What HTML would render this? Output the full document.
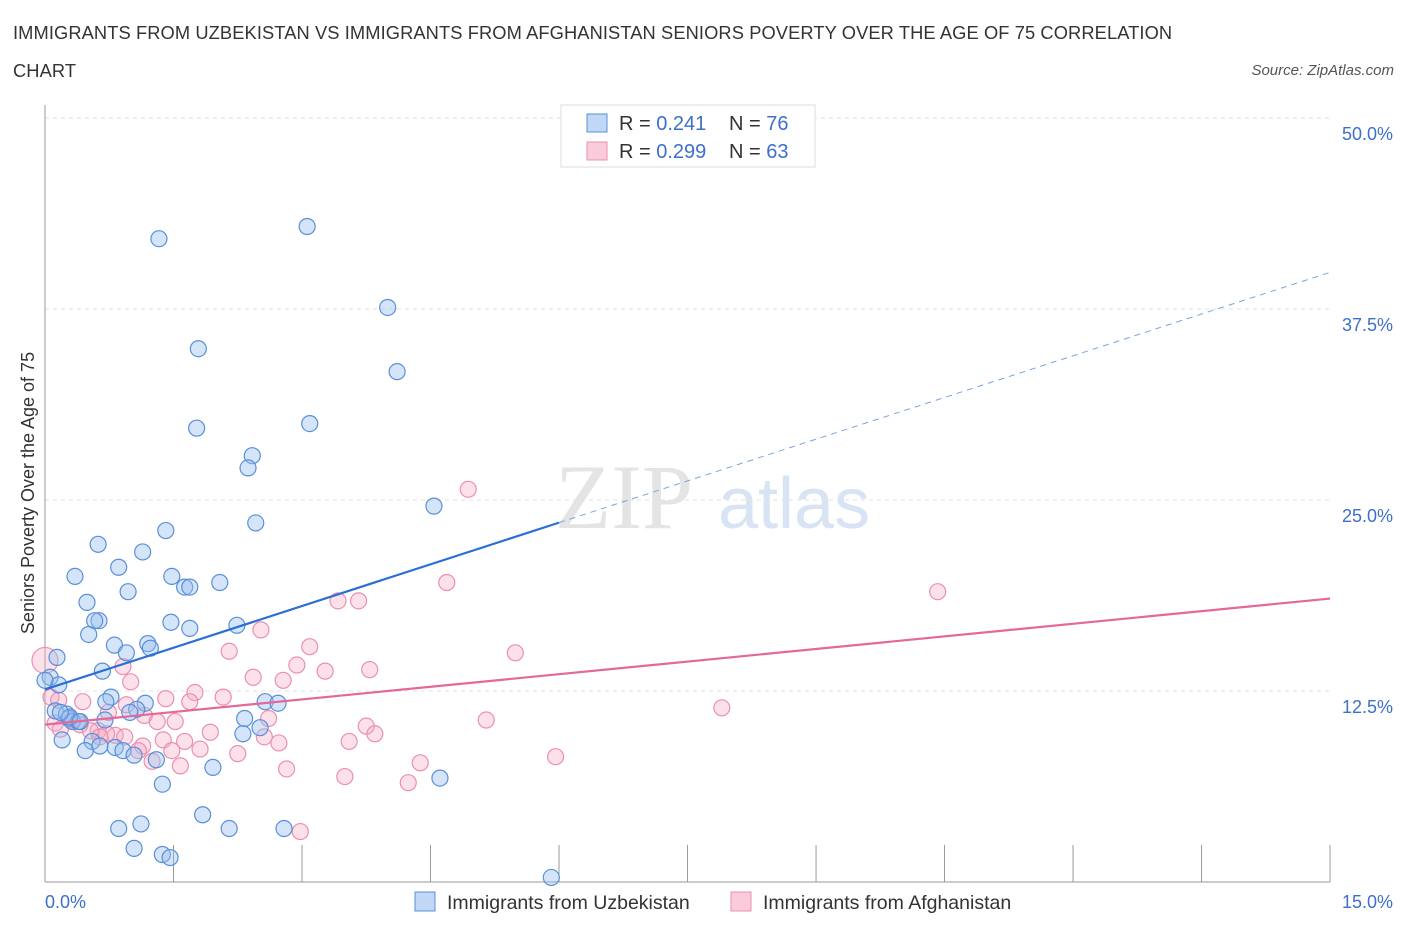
<!DOCTYPE html>
<html><head><meta charset="utf-8">
<style>
body{margin:0;background:#fff;font-family:"Liberation Sans",sans-serif;}
#wrap{position:relative;width:1406px;height:930px;overflow:hidden}
.title{position:absolute;left:13px;top:14px;font-size:18.3px;color:#333;line-height:38px;letter-spacing:0.1px}
.src{position:absolute;right:12px;top:62px;font-size:15px;color:#555;font-style:italic}
</style></head><body>
<div id="wrap">
<div class="title">IMMIGRANTS FROM UZBEKISTAN VS IMMIGRANTS FROM AFGHANISTAN SENIORS POVERTY OVER THE AGE OF 75 CORRELATION<br>CHART</div>
<div class="src">Source: ZipAtlas.com</div>
<svg id="svg" width="1406" height="930" style="position:absolute;left:0;top:0"></svg>
</div>
<script>
const xTicks=[0,1.5,3,4.5,6,7.5,9,10.5,12,13.5,15];
const yTicks=[12.5,25,37.5,50];
const yTickLabels=["12.5%","25.0%","37.5%","50.0%"];
const blueX=[1.33,3.06,4.0,1.79,4.11,1.77,3.09,2.42,2.37,4.54,2.46,1.41,0.62,1.14,0.86,0.35,1.48,2.04,0.97,1.63,1.69,0.49,0.63,1.47,0.58,0.51,1.69,2.24,0.81,1.20,1.23,0.95,0.14,0.67,0.06,0.16,0.77,0.71,1.17,1.07,0.99,2.57,2.72,0.12,0.25,0.28,0.32,0.39,0.70,2.33,2.51,2.31,0.20,0.55,0.47,0.82,0.91,1.04,1.30,1.96,1.37,4.61,1.84,0.86,1.12,2.15,2.79,1.04,1.37,1.46,5.91,0.0,0.29,0.41,0.18,0.64];
const blueY=[42.1,42.9,37.6,34.9,33.4,29.7,30.0,27.9,27.1,24.6,23.5,23.0,22.1,21.6,20.6,20.0,20.0,19.6,19.0,19.3,19.3,18.3,17.1,17.0,17.1,16.2,16.6,16.8,15.5,15.6,15.3,15.0,14.7,13.8,13.4,12.9,12.1,11.8,11.7,11.3,11.1,11.8,11.7,11.2,11.0,10.7,10.5,10.5,10.6,10.7,10.1,9.7,9.3,9.2,8.6,8.8,8.6,8.3,8.0,7.5,6.4,6.8,4.4,3.5,3.8,3.5,3.5,2.2,1.8,1.6,0.3,13.2,10.8,10.5,11.1,8.9];
const pinkX=[0.0,4.94,4.69,10.42,3.42,3.66,2.52,3.09,2.15,5.49,2.94,0.91,3.27,3.79,2.43,2.78,1.00,0.07,0.16,0.44,1.41,1.75,2.08,1.69,7.90,0.95,0.74,1.16,1.31,1.52,5.15,2.61,3.75,3.85,0.12,0.41,0.62,0.82,0.93,0.72,1.93,2.56,1.38,1.63,1.14,2.73,3.55,1.09,1.48,1.81,2.25,1.25,1.58,5.96,4.38,2.82,3.50,4.24,2.98,0.32,0.53,0.64,0.18];
const pinkY=[14.5,25.7,19.6,19.0,18.4,18.4,16.5,15.4,15.1,15.0,14.2,14.1,13.8,13.9,13.4,13.2,13.1,12.1,11.9,11.8,12.0,12.4,12.1,11.8,11.4,11.6,11.1,10.9,10.5,10.5,10.6,10.7,10.2,9.7,10.4,10.3,9.9,9.6,9.5,9.7,9.8,9.5,9.3,9.2,8.9,9.1,9.2,8.6,8.6,8.7,8.4,7.9,7.6,8.2,7.8,7.4,6.9,6.5,3.3,10.6,9.9,9.5,10.0];
const X=v=>45+v*85.67, Y=v=>882-v*15.28;
const ns="http://www.w3.org/2000/svg", svg=document.getElementById('svg');
function mk(t,a,p){const e=document.createElementNS(ns,t);for(const k in a)e.setAttribute(k,a[k]);(p||svg).appendChild(e);return e;}
let w1=mk('text',{x:555,y:528,'font-size':92,fill:'#e4e4e4','font-family':'Liberation Serif'});w1.textContent='ZIP';

let w2=mk('text',{x:718,y:528,'font-size':72,fill:'#d8e4f4'});w2.textContent='atlas';

yTicks.forEach((v,i)=>{let g=mk('line',{x1:45,x2:1330,y1:Y(v),y2:Y(v),stroke:'#e2e2e2','stroke-dasharray':'4,4'});

let t=mk('text',{x:1393,y:Y(v)+22,'text-anchor':'end','font-size':18,fill:'#3d6fcc'});t.textContent=yTickLabels[i];
});
let ax=mk('line',{x1:45,x2:45,y1:105,y2:882,stroke:'#999'});
let bx=mk('line',{x1:45,x2:1330,y1:882,y2:882,stroke:'#999'});
xTicks.forEach(v=>{let l=mk('line',{x1:X(v),x2:X(v),y1:845,y2:882,stroke:'#999'});});
let xl=mk('text',{x:45,y:908,'font-size':18,fill:'#3d6fcc'});xl.textContent='0.0%';
let xr=mk('text',{x:1393,y:908,'text-anchor':'end','font-size':18,fill:'#3d6fcc'});xr.textContent='15.0%';
let yt=mk('text',{x:34,y:493,'text-anchor':'middle','font-size':18,fill:'#333',transform:'rotate(-90 34 493)'});yt.textContent='Seniors Poverty Over the Age of 75';

pinkX.forEach((x,i)=>{let c=mk('circle',{cx:X(x),cy:Y(pinkY[i]),r:i==0?13:8,fill:'rgba(246,170,195,0.35)',stroke:'#ec8fae','stroke-width':1.2});
});
blueX.forEach((x,i)=>{let c=mk('circle',{cx:X(x),cy:Y(blueY[i]),r:8,fill:'rgba(150,190,240,0.4)',stroke:'#5a8fd8','stroke-width':1.2});
});
const bA=12.6,bB=1.82,pA=10.3,pB=0.55;
let l1=mk('line',{x1:X(0),y1:Y(bA),x2:X(6),y2:Y(bA+bB*6),stroke:'#2a6fd6','stroke-width':2.2});
let l2=mk('line',{x1:X(6),y1:Y(bA+bB*6),x2:X(15),y2:Y(bA+bB*15),stroke:'#7aa3e0','stroke-width':1,'stroke-dasharray':'6,5'});
let l3=mk('line',{x1:X(0),y1:Y(pA),x2:X(15),y2:Y(pA+pB*15),stroke:'#e4689a','stroke-width':2.2});
let lg=mk('rect',{x:561,y:105,width:254,height:62,fill:'#fff',stroke:'#ddd'});
[[0,'0.241','76','rgba(150,190,240,0.6)','#5a8fd8'],[1,'0.299','63','rgba(246,170,195,0.6)','#ec8fae']].forEach(([i,r,n,f,s])=>{
 const y=114+i*28;
 let sq=mk('rect',{x:587,y:y,width:20,height:18,fill:f,stroke:s});
 let t=mk('text',{x:619,y:y+16,'font-size':20,fill:'#333'});t.innerHTML='R = <tspan fill="#3d6fcc">'+r+'</tspan><tspan x="729">N = </tspan><tspan fill="#3d6fcc">'+n+'</tspan>';
 
});
[[415,'Immigrants from Uzbekistan','rgba(150,190,240,0.6)','#5a8fd8'],[731,'Immigrants from Afghanistan','rgba(246,170,195,0.6)','#ec8fae']].forEach(([x,l,f,s])=>{
 let sq=mk('rect',{x:x,y:892,width:20,height:19,fill:f,stroke:s});
 let t=mk('text',{x:x+32,y:909,'font-size':19.5,fill:'#333'});t.textContent=l;
});
</script>
</body></html>
